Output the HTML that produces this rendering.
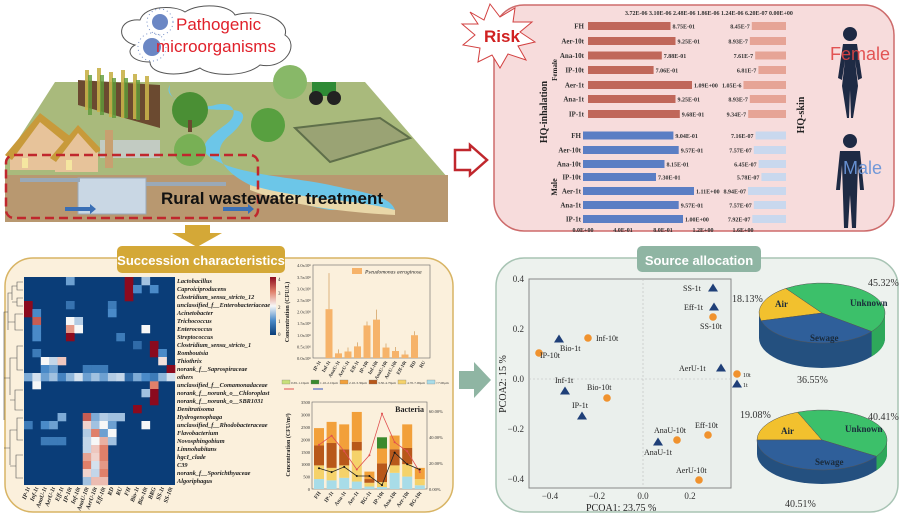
<!DOCTYPE html>
<html><head><meta charset="utf-8"><style>
body{margin:0;background:#fff;}
svg{display:block;font-family:"Liberation Serif",serif;}
.s{font-family:"Liberation Sans",sans-serif;}
</style></head><body>
<svg id="S" width="905" height="516" viewBox="0 0 905 516" xmlns="http://www.w3.org/2000/svg">
<!-- ===== Landscape ===== -->
<polygon points="5,160 55,82 365,82 448,178 448,222 5,222" fill="#a9ba7c"/>
<polygon points="5,175 448,175 448,222 5,222" fill="#b89870"/>
<polygon points="78,80 160,85 160,128 78,105" fill="#6b4a30"/>
<g fill="#c8b24a" opacity=".9"><rect x="85" y="70" width="4" height="40"/><rect x="97" y="68" width="4" height="44"/><rect x="109" y="72" width="4" height="45"/><rect x="121" y="70" width="4" height="48"/><rect x="133" y="74" width="4" height="45"/><rect x="145" y="76" width="4" height="44"/></g>
<g fill="#5f9a3a" opacity=".8"><rect x="88" y="75" width="4" height="40"/><rect x="100" y="75" width="4" height="40"/><rect x="112" y="78" width="4" height="40"/><rect x="124" y="78" width="4" height="40"/><rect x="136" y="80" width="4" height="40"/></g>
<path d="M170,85 C160,100 200,110 215,105 C235,100 240,115 225,125 C205,140 195,150 215,160 C240,175 300,178 330,185 C360,192 390,195 395,210 L330,210 C300,205 270,195 250,185 C220,170 210,150 230,135 C245,122 250,110 230,110 C200,110 165,105 170,85 Z" fill="#6cc6e8"/>
<path d="M250,185 C300,200 350,198 395,210 L395,215 C340,212 290,205 250,190Z" fill="#e9d7a8"/>
<circle cx="190" cy="110" r="18" fill="#4a8f34"/><rect x="188" y="120" width="4" height="12" fill="#6b4a30"/>
<circle cx="190" cy="150" r="16" fill="#78b055"/>
<circle cx="290" cy="82" r="17" fill="#88b868"/>
<circle cx="268" cy="125" r="17" fill="#58a040"/>
<rect x="312" y="82" width="24" height="14" fill="#2e8a35"/><circle cx="316" cy="98" r="7" fill="#222"/><circle cx="334" cy="98" r="7" fill="#222"/>
<polygon points="295,128 380,118 410,138 330,162" fill="#9aa374" stroke="#5f6f4a" stroke-width="2"/>
<polygon points="10,160 40,118 70,140 70,170 10,170" fill="#e7c39a"/><polygon points="5,155 40,113 75,140 68,145 40,122 12,160" fill="#c89a3a"/>
<polygon points="55,160 78,130 98,150 98,172 55,172" fill="#e7c39a"/><polygon points="50,158 78,125 102,150 96,153 78,133 56,162" fill="#c89a3a"/>
<rect x="22" y="158" width="6" height="10" fill="#f5e6a0"/><rect x="66" y="160" width="6" height="10" fill="#f5e6a0"/>
<rect x="100" y="140" width="60" height="18" fill="#c8cfd3" opacity=".8"/>
<rect x="105" y="130" width="8" height="38" fill="#c8a070"/>
<rect x="78" y="178" width="68" height="36" fill="#c9d7e4" stroke="#9aa9b8"/>
<rect x="20" y="178" width="60" height="4" fill="#9aa9b8"/><rect x="146" y="182" width="80" height="4" fill="#9aa9b8"/>
<polygon points="65,207 90,207 90,204 96,209 90,214 90,211 65,211" fill="#3a6fb5"/>
<polygon points="223,207 248,207 248,204 254,209 248,214 248,211 223,211" fill="#3a6fb5"/>
<rect x="6" y="155" width="252" height="63" rx="8" fill="none" stroke="#c0272d" stroke-width="2.5" stroke-dasharray="9,5"/>
<text x="161" y="204" class="s" font-size="17" font-weight="bold" fill="#111">Rural wastewater treatment</text>
<!-- cloud -->
<path d="M135,45 C115,40 118,18 140,20 C145,5 175,5 185,12 C200,2 230,5 235,15 C260,8 290,20 285,35 C300,45 285,70 260,65 C245,78 210,76 200,68 C180,78 150,75 150,62 C130,62 125,50 135,45Z" fill="#fff" stroke="#555" stroke-width="1"/>
<circle cx="160" cy="22" r="8" fill="#3a5fb0" opacity=".75"/><circle cx="152" cy="47" r="9" fill="#3a5fb0" opacity=".75"/>
<circle cx="160" cy="22" r="13" fill="none" stroke="#3a5fb0" stroke-width="1" stroke-dasharray="1,3" opacity=".7"/><circle cx="152" cy="47" r="14" fill="none" stroke="#3a5fb0" stroke-width="1" stroke-dasharray="1,3" opacity=".7"/>
<text x="176" y="30" class="s" font-size="17" fill="#e0202a">Pathogenic</text>
<text x="156" y="52" class="s" font-size="17" fill="#e0202a">microorganisms</text>
<polygon points="185,225 210,225 210,233 222,233 197,247 172,233 185,233" fill="#d4a837"/>
<!-- red hollow arrow -->
<polygon points="455,150 470,150 470,145 487,160 470,175 470,170 455,170" fill="none" stroke="#c0272d" stroke-width="2.5"/>
<!-- ===== Risk panel ===== -->
<rect x="494" y="5" width="400" height="226" rx="30" fill="#f7dcdc" stroke="#cd6b6b" stroke-width="1.5"/>
<polygon points="470,12 484,20 490,4 500,17 515,8 513,22 532,22 520,32 535,42 518,46 526,60 508,54 500,68 492,55 478,62 480,48 463,45 475,35 462,24 478,24" fill="#fff" stroke="#d24040" stroke-width="1"/>
<text x="484" y="42" class="s" font-size="17" font-weight="bold" fill="#d02020">Risk</text>
<text x="625" y="15" font-size="6" font-weight="bold" fill="#333">3.72E-06 3.10E-06 2.48E-06 1.86E-06 1.24E-06 6.20E-07 0.00E+00</text>
<g id="risk" font-size="7" font-weight="bold" fill="#333"></g>
<text transform="translate(547,112) rotate(-90)" text-anchor="middle" font-size="10" font-weight="bold" fill="#222">HQ-inhalation</text>
<text transform="translate(557,70) rotate(-90)" text-anchor="middle" font-size="7" font-weight="bold" fill="#222">Female</text>
<text transform="translate(557,187) rotate(-90)" text-anchor="middle" font-size="8" font-weight="bold" fill="#222">Male</text>
<text transform="translate(804,115) rotate(-90)" text-anchor="middle" font-size="10" font-weight="bold" fill="#222">HQ-skin</text>
<g fill="#1e2a44">
<circle cx="850" cy="34" r="7"/><path d="M843,44 L857,44 L862,78 L858,80 L855,60 L858,86 L853,118 L851,118 L850,90 L849,118 L847,118 L842,86 L845,60 L842,80 L838,78Z"/>
<circle cx="850" cy="141" r="7"/><path d="M840,151 L860,151 L864,190 L860,190 L858,165 L856,228 L852,228 L850,195 L848,228 L844,228 L842,165 L840,190 L836,190Z"/>
</g>
<text x="830" y="60" class="s" font-size="18" fill="#e04545" opacity=".9">Female</text>
<text x="843" y="174" class="s" font-size="18" fill="#6a95d8" opacity=".95">Male</text>
<!-- ===== Succession panel ===== -->
<rect x="5" y="258" width="448" height="254" rx="28" fill="#fbf0dc" stroke="#d8b464" stroke-width="1.5"/>
<rect x="117" y="246" width="168" height="27" rx="5" fill="#d4a837"/>
<text x="201" y="265" text-anchor="middle" class="s" font-size="13" font-weight="bold" fill="#fff">Succession characteristics</text>
<g id="heat"></g>
<g stroke="#555" stroke-width=".6" fill="none">
<path d="M23,282 H17 V290 H23 M17,286 H12 V300 M23,298 H17 V306 H23 M17,302 H12 M12,293 H8 V330 M23,314 H15 V330 H23 M15,322 H8 M8,312 H4 V420 M23,346 H17 V370 H23 M17,358 H10 V395 M23,390 H15 V410 H23 M15,400 H10 M10,378 H4 M23,418 H17 V440 H23 M17,430 H10 V465 M23,455 H16 V478 H23 M16,466 H10 M10,448 H4"/>
</g>
<defs><linearGradient id="cb" x1="0" y1="0" x2="0" y2="1"><stop offset="0" stop-color="#8b0a1e"/><stop offset=".25" stop-color="#e0806a"/><stop offset=".5" stop-color="#f7f7f7"/><stop offset=".75" stop-color="#4a8ac8"/><stop offset="1" stop-color="#0a3d78"/></linearGradient></defs>
<rect x="270" y="277" width="6" height="58" fill="url(#cb)"/>
<g font-size="5" fill="#333"><text x="278" y="281">4</text><text x="278" y="295">3</text><text x="278" y="309">2</text><text x="278" y="323">1</text><text x="278" y="336">0</text></g>
<g id="pseudo"></g>
<g id="bact"></g>
<!-- teal arrow -->
<polygon points="459,371 474,371 474,362 491,380 474,398 474,389 459,389" fill="#8fb5a3"/>
<!-- ===== Source panel ===== -->
<rect x="496" y="258" width="402" height="254" rx="28" fill="#edf2ee" stroke="#a8c4b4" stroke-width="1.5"/>
<rect x="637" y="246" width="124" height="26" rx="5" fill="#8fb5a3"/>
<text x="699" y="265" text-anchor="middle" class="s" font-size="13" font-weight="bold" fill="#fff">Source allocation</text>
<rect x="529" y="279" width="202" height="209" fill="#eaefec" stroke="#888" stroke-width="1"/>
<line x1="643" y1="279" x2="643" y2="488" stroke="#bbb" stroke-width=".6" stroke-dasharray="2,2"/>
<line x1="529" y1="379" x2="731" y2="379" stroke="#bbb" stroke-width=".6" stroke-dasharray="2,2"/>
<g font-size="9" fill="#333">
<text x="524" y="282" text-anchor="end">0.4</text><text x="524" y="332" text-anchor="end">0.2</text><text x="524" y="382" text-anchor="end">0.0</text><text x="524" y="432" text-anchor="end">−0.2</text><text x="524" y="482" text-anchor="end">−0.4</text>
<text x="550" y="499" text-anchor="middle">−0.4</text><text x="597" y="499" text-anchor="middle">−0.2</text><text x="643" y="499" text-anchor="middle">0.0</text><text x="690" y="499" text-anchor="middle">0.2</text>
</g>
<text x="586" y="511" font-size="10" fill="#222">PCOA1:  23.75 %</text>
<text transform="translate(506,384) rotate(-90)" text-anchor="middle" font-size="10" fill="#222">PCOA2:  15 %</text>
<g id="pts"></g>
<g id="pies"></g>
<g font-size="10" fill="#333">
<text x="868" y="286">45.32%</text><text x="732" y="302">18.13%</text><text x="797" y="383">36.55%</text>
<text x="740" y="418">19.08%</text><text x="868" y="420">40.41%</text><text x="785" y="507">40.51%</text>
</g>
<g font-size="9" font-weight="bold" fill="#1a2a3a">
<text x="775" y="307">Air</text><text x="850" y="306">Unknown</text><text x="810" y="341">Sewage</text>
<text x="781" y="434">Air</text><text x="845" y="432">Unknown</text><text x="815" y="465">Sewage</text>
</g>
</svg>
<script>
const NS="http://www.w3.org/2000/svg";
function el(p,t,a,txt){const e=document.createElementNS(NS,t);for(const k in a)e.setAttribute(k,a[k]);if(txt!=null)e.textContent=txt;p.appendChild(e);return e;}
const R=document.getElementById('risk');
const labs=["FH","Aer-10t","Ana-10t","IP-10t","Aer-1t","Ana-1t","IP-1t"];
const fv=[.875,.925,.788,.706,1.09,.925,.968],fs=[8.45,8.93,7.61,6.81,10.5,8.93,9.34],fl=["8.45E-7","8.93E-7","7.61E-7","6.81E-7","1.05E-6","8.93E-7","9.34E-7"],fy=[26,41,55.5,70,85,99,114];
const mv=[.904,.957,.815,.730,1.11,.957,1.00],ms=[7.16,7.57,6.45,5.78,8.94,7.57,7.92],ml=["7.16E-07","7.57E-07","6.45E-07","5.78E-07","8.94E-07","7.57E-07","7.92E-07"],my=[135.5,150,164,177,191,205,219];
const mvl=["9.04E-01","9.57E-01","8.15E-01","7.30E-01","1.11E+00","9.57E-01","1.00E+00"],fvl=["8.75E-01","9.25E-01","7.88E-01","7.06E-01","1.09E+00","9.25E-01","9.68E-01"];
for(let i=0;i<7;i++){
 let y=fy[i];el(R,'text',{x:584,y:y+2.5,'text-anchor':'end'},labs[i]);
 el(R,'rect',{x:588,y:y-4,width:fv[i]*100-5,height:8,fill:'#c0675a'});
 el(R,'text',{x:588+fv[i]*100-3,y:y+2.5,'font-size':6},fvl[i]);
 let w=fs[i]*4.05;el(R,'rect',{x:786-w,y:y-4,width:w,height:8,fill:'#e6a496'});
 el(R,'text',{x:784-w,y:y+2.5,'text-anchor':'end','font-size':6},fl[i]);
 y=my[i];el(R,'text',{x:581,y:y+2.5,'text-anchor':'end'},labs[i]);
 el(R,'rect',{x:583,y:y-4,width:mv[i]*100,height:8,fill:'#5b7ec4'});
 el(R,'text',{x:585+mv[i]*100,y:y+2.5,'font-size':6},mvl[i]);
 w=ms[i]*4.05*1.05;el(R,'rect',{x:786-w,y:y-4,width:w,height:8,fill:'#c9d8ee'});
 el(R,'text',{x:784-w,y:y+2.5,'text-anchor':'end','font-size':6},ml[i]);
}
["0.0E+00","4.0E-01","8.0E-01","1.2E+00","1.6E+00"].forEach((t,i)=>el(R,'text',{x:583+i*40,y:232,'text-anchor':'middle','font-size':6},t));
const H=document.getElementById('heat');
const rows=["Lactobacillus","Caproiciproducens","Clostridium_sensu_stricto_12","unclassified_f__Enterobacteriaceae","Acinetobacter","Trichococcus","Enterococcus","Streptococcus","Clostridium_sensu_stricto_1","Romboutsia","Thiothrix","norank_f__Saprospiraceae","others","unclassified_f__Comamonadaceae","norank_f__norank_o__Chloroplast","norank_f__norank_o__SBR1031","Denitratisoma","Hydrogenophaga","unclassified_f__Rhodobacteraceae","Flavobacterium","Novosphingobium","Limnohabitans","hgcI_clade","C39","norank_f__Sporichthyaceae","Algoriphagus"];
const cols=["IP-1t","Inf-1t","AnaU-1t","AerU-1t","Eff-1t","IP-10t","Inf-10t","AnaU-10t","AerU-10t","Eff-10t","RD","RU","FH","Bio-1t","Bio-10t","BRG","SS-1t","SS-10t"];
const V={};const s=(r,c,v)=>V[r+','+c]=v;
[[0,5,1.2],[0,12,4],[0,14,1.5],[1,12,4],[1,13,1],[1,15,1],[2,12,4],[3,0,4],[3,5,.7],[3,10,.8],[4,0,4],[4,1,1],[4,10,1],[5,1,3.3],[5,5,2],[5,6,1.6],[6,1,1],[6,5,2.8],[6,6,2],[6,14,2],[7,1,1],[7,5,4],[7,11,.8],[8,15,4],[8,13,.6],[9,1,.8],[9,15,4],[9,16,1],[10,2,2],[10,3,1.7],[10,4,2.4],[10,16,2.2],[11,2,1],[11,3,1.2],[11,7,.8],[11,8,.8],[11,9,.8],[11,17,4],[13,1,2],[13,15,3],[14,15,4],[14,14,1.5],[15,15,4],[16,13,4],[17,4,1.3],[17,7,3.3],[17,8,1.3],[17,9,1.6],[17,10,1.5],[17,11,1.5],[18,0,.8],[18,2,1],[18,3,1.2],[18,7,2.3],[18,8,1.5],[18,9,2],[18,10,1.2],[18,14,2],[19,7,1.6],[19,8,3],[19,9,1.2],[19,10,2],[20,2,.8],[20,3,.8],[20,4,.8],[20,7,1.7],[20,8,2],[20,9,2.6],[20,10,1.5],[21,7,1.7],[21,8,2.4],[21,9,3],[22,7,2.7],[22,8,2.3],[22,9,3],[23,7,3],[23,8,1.8],[23,9,2.8],[24,7,2.3],[24,8,1.7],[24,9,3],[25,7,1.5],[25,8,2.5],[25,9,2.5]].forEach(a=>s(...a));
[1.3,1.8,1.2,1.5,.9,1.4,1.8,1.2,1.5,1.2,1.6,1.7,.6,1.3,1,.8,1.4,1.8].forEach((v,c)=>s(12,c,v));
const stops=[[10,61,120],[74,138,200],[247,247,247],[224,128,106],[139,10,30]];
function col(v){v=Math.max(0,Math.min(4,v));const i=Math.min(3,Math.floor(v)),f=v-i;const a=stops[i],b=stops[i+1];return `rgb(${a.map((x,k)=>Math.round(x+(b[k]-x)*f)).join(',')})`;}
const cw=151/18,rh=8;
el(H,'rect',{x:24,y:277,width:151,height:208,fill:col(0)});
for(const k in V){const [r,c]=k.split(',').map(Number);el(H,'rect',{x:24+c*cw,y:277+r*rh,width:cw+.3,height:rh+.3,fill:col(V[k])});}
rows.forEach((t,i)=>el(H,'text',{x:177,y:283+i*rh,'font-size':6.3,'font-style':'italic','font-weight':'bold',fill:'#222'},t));
cols.forEach((t,i)=>el(H,'text',{transform:`translate(${30+i*cw},488) rotate(-70)`,'text-anchor':'end','font-size':6,'font-style':'italic','font-weight':'bold',fill:'#222'},t));
const P=document.getElementById('pseudo');
el(P,'rect',{x:313,y:265,width:117,height:93,fill:'none',stroke:'#666','stroke-width':.6});
const pv=[0,2.1,.2,.28,.5,1.4,1.65,.45,.3,.15,.98,0],pl=["IP-1t","Inf-1t","AnaU-1t","AerU-1t","Eff-1t","IP-10t","Inf-10t","AnaU-10t","AerU-10t","Eff-10t","RD","RU"];
pv.forEach((v,i)=>{const x=316+i*9.5;el(P,'rect',{x:x,y:358-v*23.25,width:7,height:v*23.25,fill:'#f6b36a'});
 if(v>.1)el(P,'line',{x1:x+3.5,x2:x+3.5,y1:358-v*23.25,y2:358-v*23.25-(i==1?36:i==6?10:4),stroke:'#c88a40','stroke-width':.6});
 el(P,'text',{transform:`translate(${x+5},362) rotate(-60)`,'text-anchor':'end','font-size':5,'font-weight':'bold',fill:'#333'},pl[i]);});
for(let i=0;i<=8;i++)el(P,'text',{x:311,y:360-i*11.6,'text-anchor':'end','font-size':4.5,fill:'#333'},(i*0.5).toFixed(1)+'x10⁶');
el(P,'text',{transform:'translate(289,312) rotate(-90)','text-anchor':'middle','font-size':6,'font-weight':'bold',fill:'#222'},'Concentration (CFU/L)');
el(P,'rect',{x:352,y:268,width:10,height:6,fill:'#f6b36a'});
el(P,'text',{x:365,y:273.5,'font-size':5.5,'font-style':'italic',fill:'#222'},'Pseudomonas aeruginosa');
const B=document.getElementById('bact');
const lc=['#c8e07a','#3a8a2e','#f2a03a','#b8581a','#f5d26a','#a8dce8'];
lc.forEach((c,i)=>{el(B,'rect',{x:282+i*29,y:380,width:8,height:4,fill:c,stroke:'#777','stroke-width':.3});el(B,'text',{x:291+i*29,y:384,'font-size':3.5,fill:'#333'},['0.65-1.10μm','1.10-2.10μm','2.10-3.30μm','3.30-4.70μm','4.70-7.00μm','>7.00μm'][i]);});
el(B,'line',{x1:284,x2:294,y1:389,y2:389,stroke:'#e05050'});el(B,'line',{x1:313,x2:323,y1:389,y2:389,stroke:'#3050c0'});
el(B,'rect',{x:312,y:402,width:115,height:87,fill:'none',stroke:'#666','stroke-width':.6});
el(B,'text',{x:424,y:412,'text-anchor':'end','font-size':8,'font-weight':'bold',fill:'#222'},'Bacteria');
const st=[[400,550,700,800,0,150],[350,500,850,1000,0,150],[450,500,1000,650,0,150],[300,1250,1200,350,0,150],[100,150,300,150,0,50],[80,200,600,750,450,0],[650,300,550,650,0,180],[500,500,950,650,0,150],[150,250,450,0,0,50]];
const sc=87/3500;
const bl=["FH","IP-1t","Ana-1t","Aer-1t","BG-1t","IP-10t","Ana-10t","Aer-10t","BG-10t"];
const red=[34,41,29,15,26,58,36,29,13],blk=[16,13,17,10,10,3,28,19,15];
let rp=[],bp=[];
st.forEach((s,i)=>{const x=314+i*12.6;let y=489;const seq=[s[0],s[1],s[3],s[2],s[4]],cc=['#a8dce8','#f5d26a','#b8581a','#f2a03a','#3a8a2e'];
 seq.forEach((v,k)=>{const h=v*sc;y-=h;el(B,'rect',{x:x,y:y,width:10,height:h,fill:cc[k]});});
 rp.push((x+5)+','+(489-red[i]*1.3));bp.push((x+5)+','+(489-blk[i]*1.3));
 el(B,'text',{transform:`translate(${x+7},493) rotate(-55)`,'text-anchor':'end','font-size':5.5,'font-weight':'bold',fill:'#333'},bl[i]);});
el(B,'polyline',{points:rp.join(' '),fill:'none',stroke:'#e05050','stroke-width':.8});
el(B,'polyline',{points:bp.join(' '),fill:'none',stroke:'#222','stroke-width':.8});
bp.forEach(p=>{const[a,b]=p.split(',');el(B,'circle',{cx:a,cy:b,r:1,fill:'#111'});});
rp.forEach(p=>{const[a,b]=p.split(',');el(B,'circle',{cx:a,cy:b,r:1,fill:'#e05050'});});
for(let i=0;i<=7;i++)el(B,'text',{x:310,y:491-i*12.4,'text-anchor':'end','font-size':4.5,fill:'#333'},i*500);
['0.00%','20.00%','40.00%','60.00%'].forEach((t,i)=>el(B,'text',{x:429,y:491-i*26,'font-size':4.5,fill:'#333'},t));
el(B,'text',{transform:'translate(290,445) rotate(-90)','text-anchor':'middle','font-size':6,'font-weight':'bold',fill:'#222'},'Concentration (CFU/m³)');
const G=document.getElementById('pts');
const pts=[['t',713,288,'SS-1t',-30,3],['t',714,307,'Eff-1t',-30,3],['c',713,317,'SS-10t',-13,12],['c',588,338,'Inf-10t',8,3],['t',559,339,'Bio-1t',1,12],['c',539,353,'IP-10t',1,5],['t',721,368,'AerU-1t',-42,3],['c',737,374,'10t',6,3],['t',737,384,'1t',6,3],['t',565,391,'Inf-1t',-10,-8],['c',607,398,'Bio-10t',-20,-8],['t',582,416,'IP-1t',-10,-8],['c',677,440,'AnaU-10t',-23,-7],['c',708,435,'Eff-10t',-13,-7],['t',658,442,'AnaU-1t',-14,13],['c',699,480,'AerU-10t',-23,-7]];
pts.forEach(p=>{if(p[0]=='c')el(G,'circle',{cx:p[1],cy:p[2],r:3.8,fill:'#f0922e'});else el(G,'polygon',{points:`${p[1]},${p[2]-4.5} ${p[1]+5},${p[2]+3.5} ${p[1]-5},${p[2]+3.5}`,fill:'#1f3f78'});
 el(G,'text',{x:p[1]+p[4],y:p[2]+p[5],'font-size':p[3].length<4?6:8,fill:'#222'},p[3]);});
const Q=document.getElementById('pies');
function pie(cx,cy,rx,ry,d,a0,a1){
 const pt=t=>[cx+rx*Math.cos(t*Math.PI/180),cy+ry*Math.sin(t*Math.PI/180)];
 const [uA]=a0;
 el(Q,'ellipse',{cx:cx,cy:cy+d,rx:rx,ry:ry,fill:'#24507f'});
 el(Q,'rect',{x:cx-rx,y:cy,width:2*rx,height:d,fill:'#24507f'});
 const pe=pt(a1[1]);const r0=[cx+rx,cy];
 el(Q,'path',{d:`M${r0[0]},${r0[1]} L${r0[0]},${r0[1]+d} A${rx} ${ry} 0 0 1 ${pe[0]},${pe[1]+d} L${pe[0]},${pe[1]} Z`,fill:'#2ea85a'});
 const p1=pt(a1[0]),p2=pt(uA),p3=pt(a1[1]);
 el(Q,'path',{d:`M${cx},${cy} L${p1[0]},${p1[1]} A${rx} ${ry} 0 0 1 ${p2[0]},${p2[1]}Z`,fill:'#f2c12e',stroke:'#555','stroke-width':.5});
 el(Q,'path',{d:`M${cx},${cy} L${p2[0]},${p2[1]} A${rx} ${ry} 0 0 1 ${p3[0]},${p3[1]}Z`,fill:'#3cc06a',stroke:'#555','stroke-width':.5});
 el(Q,'path',{d:`M${cx},${cy} L${p3[0]},${p3[1]} A${rx} ${ry} 0 0 1 ${p1[0]},${p1[1]}Z`,fill:'#2f5f9a',stroke:'#555','stroke-width':.5});
}
pie(822,313,63,30,25,[235],[165,38]);
pie(822,440,65,30,14,[248],[180,33]);
</script>
</body></html>
